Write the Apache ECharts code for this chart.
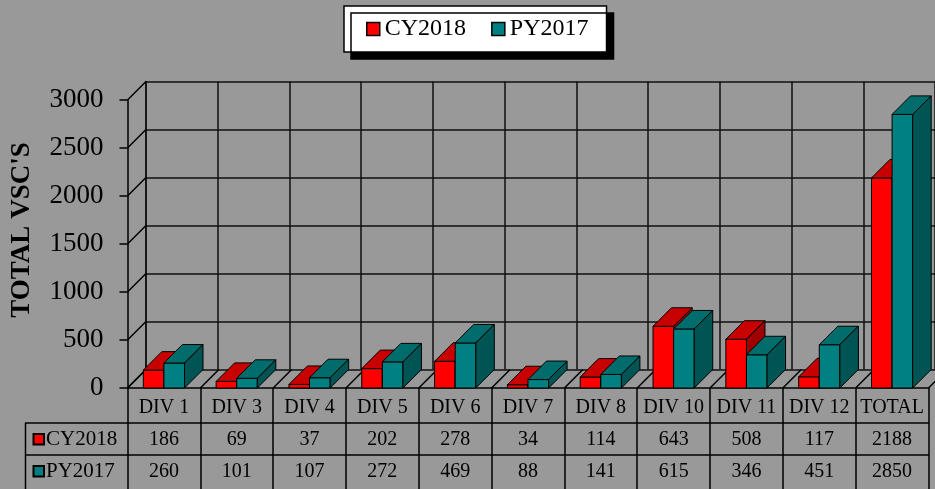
<!DOCTYPE html>
<html>
<head>
<meta charset="utf-8">
<script src="https://cdn.jsdelivr.net/npm/echarts@6/dist/echarts.min.js"></script>
<style>
  html, body { margin: 0; padding: 0; background: #999999; }
  #chart { width: 935px; height: 489px; }
</style>
</head>
<body>
<div id="chart"></div>
<script>
// dados do grafico
const categories = ['DIV 1', 'DIV 3', 'DIV 4', 'DIV 5', 'DIV 6', 'DIV 7', 'DIV 8', 'DIV 10', 'DIV 11', 'DIV 12', 'TOTAL'];
const cy2018 = [186, 69, 37, 202, 278, 34, 114, 643, 508, 117, 2188];
const py2017 = [260, 101, 107, 272, 469, 88, 141, 615, 346, 451, 2850];
const yTicks = [0, 500, 1000, 1500, 2000, 2500, 3000];
const seriesNames = ['CY2018', 'PY2017'];

const FONT = '"Liberation Serif", "Times New Roman", serif';
const DX = 18.5, DY = -18.5, BAR_W = 20.6;
const LINE = { stroke: '#000', lineWidth: 1.5 };

// barra 3D: frente, topo e lateral
function bar3d(side, cores) {
    return function (params, api) {
        const i = api.value(0);
        const v = api.value(1);
        const base = api.coord([i, 0]);
        const tip = api.coord([i, v]);
        const xl = side < 0 ? base[0] - BAR_W : base[0];
        const xr = xl + BAR_W;
        const y0 = base[1], y1 = tip[1];
        const edge = { stroke: '#000', lineWidth: 1 };
        return {
            type: 'group',
            children: [
                { type: 'polygon', shape: { points: [[xl, y1], [xr, y1], [xr, y0], [xl, y0]] }, style: Object.assign({ fill: cores[0] }, edge) },
                { type: 'polygon', shape: { points: [[xl, y1], [xr, y1], [xr + DX, y1 + DY], [xl + DX, y1 + DY]] }, style: Object.assign({ fill: cores[1] }, edge) },
                { type: 'polygon', shape: { points: [[xr, y1], [xr + DX, y1 + DY], [xr + DX, y0 + DY], [xr, y0]] }, style: Object.assign({ fill: cores[2] }, edge) }
            ]
        };
    };
}

// diagonais da parede esquerda
function paredeEsquerda(params, api) {
    const p = api.coord([0, api.value(1)]);
    const x = p[0] - api.size([1, 0])[0] / 2;
    return { type: 'line', shape: { x1: x, y1: p[1], x2: x + DX, y2: p[1] + DY }, style: LINE };
}

// diagonais do piso
function piso(params, api) {
    const i = api.value(0);
    const p = api.coord([i, 0]);
    const w = api.size([1, 0])[0];
    const linhas = [p[0] - w / 2];
    if (i === categories.length - 1) linhas.push(p[0] + w / 2);
    return {
        type: 'group',
        children: linhas.map(x => ({ type: 'line', shape: { x1: x, y1: p[1], x2: x + DX, y2: p[1] + DY }, style: LINE }))
    };
}

function renderGrafico() {
    const chartDom = document.getElementById('chart');
    const myChart = echarts.init(chartDom);

    const eixoTabela = (offset, valores) => ({
        gridIndex: 0,
        type: 'category',
        data: categories,
        position: 'bottom',
        offset: offset,
        axisLine: { show: true, lineStyle: { color: '#000', width: 1.5 } },
        axisTick: { show: false },
        axisLabel: {
            interval: 0, margin: 7, fontSize: 20, color: '#000', fontFamily: FONT,
            formatter: (v, idx) => String(valores[idx])
        }
    });

    const option = {
        backgroundColor: '#999999',
        animation: false,
        textStyle: { fontFamily: FONT },
        legend: {
            left: 344, top: 6,
            padding: [11, 18, 11, 22],
            itemGap: 25, itemWidth: 13, itemHeight: 13,
            backgroundColor: '#fff', borderColor: '#000', borderWidth: 1.5,
            shadowColor: '#000', shadowBlur: 0, shadowOffsetX: 7, shadowOffsetY: 7,
            icon: 'rect',
            itemStyle: { borderColor: '#000', borderWidth: 1.5 },
            textStyle: { fontSize: 24, color: '#000', fontFamily: FONT },
            data: seriesNames
        },
        grid: [
            { left: 127.5, top: 100, width: 801, height: 288 },
            { left: 146, top: 81.5, width: 801, height: 288 }
        ],
        xAxis: [
            {
                gridIndex: 0, type: 'category', data: categories,
                axisLine: { show: true, lineStyle: { color: '#000', width: 1.5 } },
                axisTick: { show: true, interval: 0, length: 101, lineStyle: { color: '#000', width: 1.5 } },
                axisLabel: { interval: 0, margin: 10, fontSize: 20, color: '#000', fontFamily: FONT }
            },
            eixoTabela(35, cy2018),
            eixoTabela(67, py2017),
            {
                gridIndex: 1, type: 'category', data: categories,
                axisLine: { show: false }, axisTick: { show: false }, axisLabel: { show: false },
                splitLine: { show: true, interval: 0, lineStyle: { color: '#111', width: 1.5 } }
            }
        ],
        yAxis: [
            {
                gridIndex: 0, type: 'value',
                min: yTicks[0], max: yTicks[yTicks.length - 1], interval: yTicks[1] - yTicks[0],
                axisLine: { show: true, lineStyle: { color: '#000', width: 1.5 } },
                axisTick: { show: true, length: 8, lineStyle: { color: '#000', width: 1.5 } },
                axisLabel: { margin: 24, fontSize: 27, color: '#000', fontFamily: FONT, formatter: v => String(v) },
                splitLine: { show: false }
            },
            {
                gridIndex: 1, type: 'value',
                min: yTicks[0], max: yTicks[yTicks.length - 1], interval: yTicks[1] - yTicks[0],
                axisLine: { show: true, lineStyle: { color: '#111', width: 1.5 } },
                axisTick: { show: false }, axisLabel: { show: false },
                splitLine: { show: true, lineStyle: { color: '#111', width: 1.5 } }
            }
        ],
        graphic: [
            { type: 'text', x: 22, y: 230, rotation: Math.PI / 2,
              style: { text: "TOTAL VSC'S", font: 'bold 27px ' + FONT, fill: '#000', align: 'center', verticalAlign: 'middle' } },
            { type: 'line', shape: { x1: 25, y1: 423, x2: 128, y2: 423 }, style: LINE },
            { type: 'line', shape: { x1: 25, y1: 455, x2: 128, y2: 455 }, style: LINE },
            { type: 'line', shape: { x1: 25.5, y1: 423, x2: 25.5, y2: 489 }, style: LINE },
            { type: 'rect', shape: { x: 33.5, y: 434, width: 10.5, height: 10.5 }, style: { fill: '#ff0000', stroke: '#000', lineWidth: 2 } },
            { type: 'text', x: 46, y: 439.5, style: { text: seriesNames[0], font: '21px ' + FONT, fill: '#000', verticalAlign: 'middle' } },
            { type: 'rect', shape: { x: 33.5, y: 466, width: 10.5, height: 10.5 }, style: { fill: '#008080', stroke: '#000', lineWidth: 2 } },
            { type: 'text', x: 46, y: 471.5, style: { text: seriesNames[1], font: '21px ' + FONT, fill: '#000', verticalAlign: 'middle' } }
        ],
        series: [
            {
                type: 'custom', name: 'parede', silent: true, z: 1,
                xAxisIndex: 0, yAxisIndex: 0,
                renderItem: paredeEsquerda,
                data: yTicks.map(v => [0, v])
            },
            {
                type: 'custom', name: 'piso', silent: true, z: 1,
                xAxisIndex: 0, yAxisIndex: 0,
                renderItem: piso,
                data: categories.map((c, i) => [i, 0])
            },
            {
                type: 'custom', name: seriesNames[0], z: 3,
                xAxisIndex: 0, yAxisIndex: 0,
                itemStyle: { color: '#ff0000' },
                renderItem: bar3d(-1, ['#ff0000', '#c80000', '#a00000']),
                encode: { x: 0, y: 1 },
                data: cy2018.map((v, i) => [i, v])
            },
            {
                type: 'custom', name: seriesNames[1], z: 3,
                xAxisIndex: 0, yAxisIndex: 0,
                itemStyle: { color: '#008080' },
                renderItem: bar3d(1, ['#008080', '#006c6c', '#005454']),
                encode: { x: 0, y: 1 },
                data: py2017.map((v, i) => [i, v])
            }
        ]
    };
    myChart.setOption(option);
}

document.addEventListener('DOMContentLoaded', renderGrafico);
</script>
</body>
</html>
